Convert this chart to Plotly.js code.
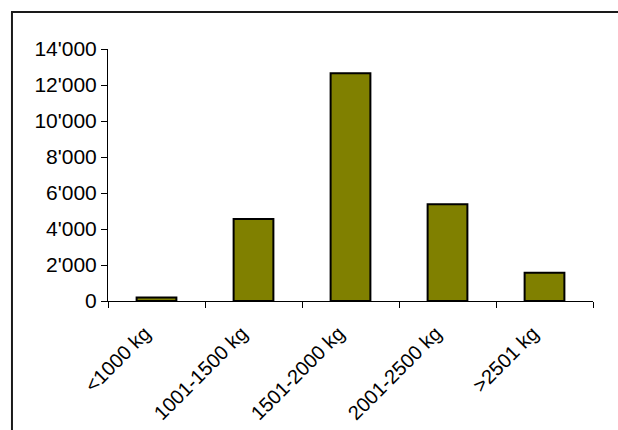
<!DOCTYPE html>
<html>
<head>
<meta charset="utf-8">
<script src="https://cdn.plot.ly/plotly-3.0.1.min.js"></script>
<style>
  html, body { margin: 0; padding: 0; background: #ffffff; }
  #chart { width: 618px; height: 430px; }
</style>
</head>
<body>
<div id="chart"></div>
<script>
// Vehicle weight classes and counts
const weightClasses = ['<1000 kg', '1001-1500 kg', '1501-2000 kg', '2001-2500 kg', '>2501 kg'];
const counts = [200, 4550, 12650, 5380, 1570];
const yTicks = [0, 2000, 4000, 6000, 8000, 10000, 12000, 14000];

// Trailing no-break spaces pull the slanted labels down and to the left of each bar
const pad = '\u00A0\u00A0\u00A0';
const xLabels = weightClasses.map(function (c) { return c + pad; });

const trace = {
  type: 'bar',
  x: weightClasses,
  y: counts,
  marker: { color: '#808000', line: { color: '#000000', width: 2 } },
  width: 0.41,
  hoverinfo: 'x+y'
};

// Frame lines of the chart area (left and top edges)
const frame = { color: '#1a1a1a', width: 2 };

const layout = {
  width: 618,
  height: 430,
  margin: { l: 108, r: 25, t: 49, b: 129 },
  paper_bgcolor: '#ffffff',
  plot_bgcolor: '#ffffff',
  separators: ".'",
  font: { family: 'Liberation Sans, Arial, sans-serif', size: 21, color: '#000000' },
  showlegend: false,
  bargap: 0.59,
  xaxis: {
    type: 'category',
    range: [-0.5, 4.5],
    tickmode: 'array',
    tickvals: weightClasses,
    ticktext: xLabels,
    tickfont: { size: 20 },
    showline: true,
    linecolor: '#000000',
    linewidth: 1,
    ticks: 'outside',
    tickson: 'boundaries',
    ticklen: 6,
    tickcolor: '#000000',
    tickwidth: 1,
    tickangle: -45,
    showgrid: false,
    zeroline: false
  },
  yaxis: {
    range: [0, 14000],
    tickvals: yTicks,
    tickformat: ',d',
    showline: true,
    linecolor: '#000000',
    linewidth: 1,
    ticks: 'outside',
    ticklen: 6,
    tickcolor: '#000000',
    tickwidth: 1,
    showgrid: false,
    zeroline: false
  },
  shapes: [
    { type: 'line', xref: 'paper', yref: 'paper', x0: -0.198, x1: -0.198, y0: 1.147, y1: -0.53, line: frame },
    { type: 'line', xref: 'paper', yref: 'paper', x0: -0.200, x1: 1.06, y0: 1.147, y1: 1.147, line: frame }
  ]
};

Plotly.newPlot('chart', [trace], layout, { displayModeBar: false, staticPlot: true });
</script>
</body>
</html>
